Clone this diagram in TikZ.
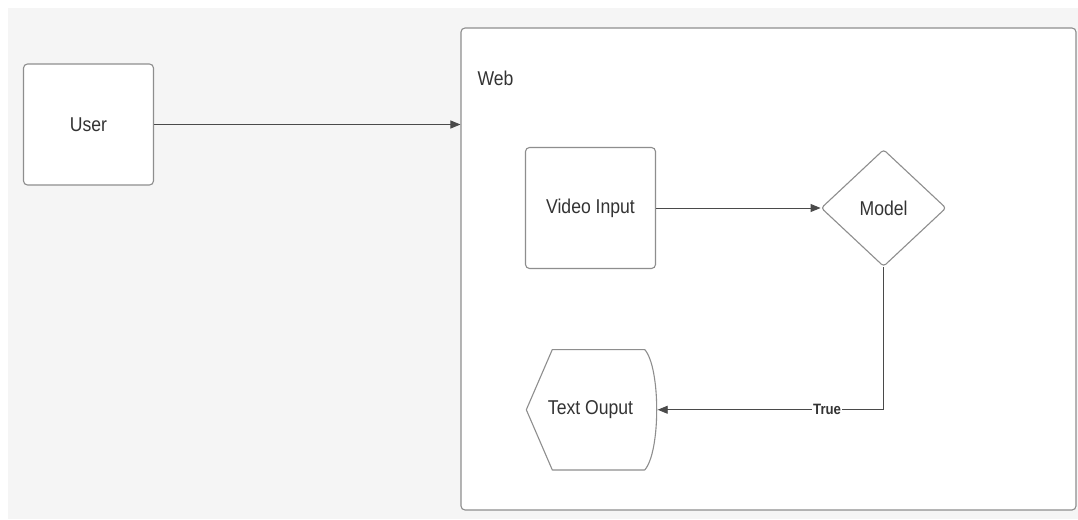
\documentclass[tikz,border=0pt]{standalone}
\usepackage{fontspec}
\setmainfont{Liberation Sans}[FakeStretch=0.88]
\usepackage{tikz}
\usetikzlibrary{arrows.meta, calc, positioning, shapes.geometric}

\definecolor{canvas}{HTML}{F5F5F5}
\definecolor{edge}{HTML}{8E8E8E}
\definecolor{wire}{HTML}{4A4A4A}
\definecolor{ink}{HTML}{333333}

\begin{document}
\begin{tikzpicture}[
    x=1pt, y=-1pt,
    every node/.style={text=ink, font=\fontsize{20}{22}\selectfont},
    box/.style={rectangle, draw=edge, line width=1.1pt, fill=white, rounded corners=4pt, minimum width=130pt, minimum height=121pt, align=center},
    decision/.style={diamond, draw=edge, line width=1.1pt, fill=white, rounded corners=3pt, inner sep=0pt, minimum width=125pt, minimum height=117pt},
    arrow/.style={-{Triangle[length=10pt, width=8pt]}, line width=0.9pt, wire}
]
\useasboundingbox (0,0) rectangle (1078,519);
\fill[canvas] (8,8) rectangle (1078,519);

% Noeuds principaux
\node[box] (user) at (88.5,124.5) {User};
\node[box, minimum width=615pt, minimum height=482pt] (web) at (768.5,269) {};
\node[anchor=west] (weblabel) at (474,78) {Web};
\node[box] (video) at (590.5,208) {Video Input};
\node[decision, right=164.5pt of video] (model) {Model};
\node[minimum width=128pt, minimum height=120pt, below=80.5pt of video] (output) {};

% Contour de la sortie (affichage)
\filldraw[draw=edge, fill=white, line width=1.1pt, line join=round]
    (output.west) -- ($(output.north west)+(26,0)$) -- ($(output.north east)+(-10,0)$)
    .. controls ($(output.north east)+(6,18)$) and ($(output.south east)+(6,-18)$) .. ($(output.south east)+(-10,0)$)
    -- ($(output.south west)+(26,0)$) -- cycle;
\node at (output) {Text Ouput};

% Fleches
\draw[arrow] (user.east) -- (user.east -| web.west);
\draw[arrow] (video.east) -- (model.west);
\draw[arrow] (model.south) |- ($(output.east)+(3,0)$)
    node[pos=0.625, fill=white, inner sep=1pt, font=\fontsize{15}{17}\selectfont\bfseries] {True};
\end{tikzpicture}
\end{document}
